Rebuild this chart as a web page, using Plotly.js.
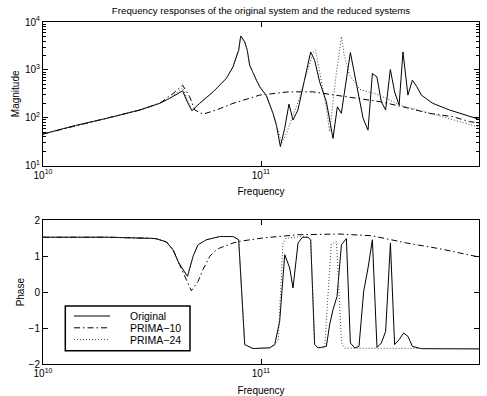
<!DOCTYPE html>
<html>
<head>
<meta charset="utf-8">
<script src="https://cdn.plot.ly/plotly-3.0.1.min.js"></script>
<style>html,body{margin:0;padding:0;background:#fff;}#chart{width:487px;height:396px;}</style>
</head>
<body>
<div id="chart"></div>
<script>
// ---- Data ----
const seriesNames = ["Original", "PRIMA\u221210", "PRIMA\u221224"];

// Magnitude: Original
const magFreqOrig = [1e10, 1.373e10, 1.954e10, 2.777e10, 3.43e10, 3.81e10, 4.37e10, 4.55e10, 4.82e10, 5.23e10, 6.03e10, 6.93e10, 7.44e10, 7.76e10, 7.9e10, 8.07e10, 8.42e10, 8.65e10, 8.87e10, 9.53e10, 9.86e10, 1.059e11, 1.135e11, 1.177e11, 1.227e11, 1.284e11, 1.344e11, 1.402e11, 1.477e11, 1.558e11, 1.69e11, 1.762e11, 1.858e11, 1.995e11, 2.139e11, 2.24e11, 2.336e11, 2.57e11, 2.74e11, 2.94e11, 3.097e11, 3.243e11, 3.40e11, 3.565e11, 3.73e11, 3.92e11, 4.10e11, 4.30e11, 4.48e11, 4.72e11, 4.95e11, 5.19e11, 5.44e11, 6.14e11, 7.33e11, 8.75e11, 1e12];
const magOrig = [45.7, 67, 97, 145, 200, 254, 365, 234, 140, 200, 348, 662, 1155, 2197, 2570, 5110, 3830, 2570, 1253, 610, 442, 290, 124, 70, 25, 60, 193, 90, 145, 442, 2370, 1592, 562, 215, 37, 169, 124, 2304, 480, 97, 55, 841, 715, 215, 145, 1019, 348, 184, 2370, 297, 610, 442, 297, 200, 145, 114, 93];

// Magnitude: PRIMA-10
const magFreqP10 = [1e10, 1.954e10, 2.777e10, 3.43e10, 3.95e10, 4.37e10, 4.71e10, 4.97e10, 5.42e10, 6.24e10, 7.44e10, 9.86e10, 1.34e11, 1.73e11, 2.46e11, 3.55e11, 4.48e11, 5.9e11, 7.6e11, 9.06e11, 1e12];
const magP10 = [45.7, 97, 145, 200, 320, 480, 274, 145, 119, 145, 200, 297, 348, 348, 274, 215, 169, 124, 105, 83, 78];

// Magnitude: PRIMA-24
const magFreqP24 = [1e10, 1.373e10, 1.954e10, 2.777e10, 3.43e10, 3.81e10, 4.37e10, 4.55e10, 4.82e10, 5.23e10, 6.03e10, 6.93e10, 7.44e10, 7.76e10, 7.9e10, 8.07e10, 8.42e10, 8.65e10, 8.87e10, 9.53e10, 1.059e11, 1.135e11, 1.177e11, 1.245e11, 1.30e11, 1.40e11, 1.50e11, 1.61e11, 1.74e11, 1.78e11, 1.88e11, 1.995e11, 2.065e11, 2.21e11, 2.34e11, 2.41e11, 2.55e11, 2.84e11, 3.5e11, 4.33e11, 5.74e11, 7.6e11, 1e12];
const magP24 = [45.7, 67, 97, 145, 200, 254, 420, 260, 140, 200, 348, 662, 1155, 2197, 2570, 5110, 3830, 2570, 1253, 610, 274, 124, 70, 30, 44, 114, 254, 776, 2370, 2600, 662, 157, 51, 776, 5000, 2020, 776, 390, 297, 184, 130, 90, 64];

// Phase: Original
const phFreqOrig = [1e10, 2e10, 3.09e10, 3.3e10, 3.68e10, 3.95e10, 4.2e10, 4.6e10, 4.88e10, 5.14e10, 5.62e10, 6.47e10, 7.44e10, 7.9e10, 8.42e10, 9.19e10, 1.096e11, 1.156e11, 1.218e11, 1.285e11, 1.354e11, 1.402e11, 1.479e11, 1.549e11, 1.643e11, 1.69e11, 1.762e11, 1.826e11, 1.995e11, 2.065e11, 2.14e11, 2.232e11, 2.338e11, 2.464e11, 2.57e11, 2.69e11, 2.815e11, 2.958e11, 3.097e11, 3.243e11, 3.404e11, 3.565e11, 3.73e11, 3.924e11, 4.10e11, 4.30e11, 4.515e11, 4.72e11, 4.95e11, 5.44e11, 1e12];
const phOrig = [1.53, 1.53, 1.50, 1.49, 1.40, 1.18, 0.81, 0.44, 1.0, 1.32, 1.46, 1.55, 1.55, 1.46, -1.46, -1.57, -1.55, -1.46, -0.81, 1.045, 0.674, 0.117, 1.37, 1.53, 1.53, 1.46, -1.46, -1.55, -1.51, -0.905, -0.487, -0.12, 1.32, 1.49, -1.415, -1.554, -1.51, 0.022, 0.674, 1.46, -1.54, -1.415, -1.09, 1.37, -1.46, -1.32, -1.136, -1.23, -1.51, -1.574, -1.58];

// Phase: PRIMA-10
const phFreqP10 = [1e10, 2e10, 3.09e10, 3.3e10, 3.68e10, 3.95e10, 4.2e10, 4.46e10, 4.79e10, 5.14e10, 5.42e10, 5.82e10, 6.24e10, 6.47e10, 7.44e10, 8.05e10, 1.02e11, 1.48e11, 2.3e11, 3.24e11, 4.65e11, 6.6e11, 9.5e11, 1e12];
const phP10 = [1.53, 1.53, 1.50, 1.49, 1.40, 1.18, 0.81, 0.45, 0.04, 0.3, 0.63, 1.0, 1.18, 1.23, 1.37, 1.42, 1.51, 1.6, 1.62, 1.57, 1.37, 1.21, 1.0, 0.98];

// Phase: PRIMA-24
const phFreqP24 = [1e10, 2e10, 3.09e10, 3.3e10, 3.68e10, 3.95e10, 4.2e10, 4.6e10, 4.88e10, 5.14e10, 5.62e10, 6.47e10, 7.44e10, 7.9e10, 8.42e10, 9.19e10, 1.096e11, 1.156e11, 1.20e11, 1.26e11, 1.30e11, 1.402e11, 1.549e11, 1.643e11, 1.69e11, 1.762e11, 1.826e11, 1.96e11, 2.10e11, 2.22e11, 2.34e11, 2.42e11, 1e12];
const phP24 = [1.53, 1.53, 1.50, 1.49, 1.40, 1.18, 0.81, 0.44, 1.0, 1.32, 1.46, 1.55, 1.55, 1.46, -1.46, -1.57, -1.55, -1.46, -1.35, 1.35, 1.5, 1.53, 1.55, 1.53, 1.46, -1.46, -1.55, -1.55, 1.35, 1.4, -1.40, -1.56, -1.57];

// Tick labels
const freqTickVals = [1e10, 1e11, 1e12];
const freqTickText = ["10<sup>10</sup>", "10<sup>11</sup>", "10<sup>12</sup>"];
const magTickVals = [10, 100, 1000, 10000];
const magTickText = ["10<sup>1</sup>", "10<sup>2</sup>", "10<sup>3</sup>", "10<sup>4</sup>"];

// ---- Styles ----
const FONT = "Liberation Sans, Arial, Helvetica, sans-serif";
const styles = [
  {color: "#000", width: 1, dash: "solid"},
  {color: "#000", width: 1, dash: "6px,3px,1.5px,3px"},
  {color: "#444", width: 1, dash: "1px,2px"}
];

const magX = [magFreqOrig, magFreqP10, magFreqP24];
const magY = [magOrig, magP10, magP24];
const phX = [phFreqOrig, phFreqP10, phFreqP24];
const phY = [phOrig, phP10, phP24];

const traces = [];
for (let i = 0; i < 3; i++) {
  traces.push({x: magX[i], y: magY[i], type: "scatter", mode: "lines", name: seriesNames[i],
    line: styles[i], xaxis: "x", yaxis: "y", showlegend: false, hoverinfo: "skip"});
}
for (let i = 0; i < 3; i++) {
  traces.push({x: phX[i], y: phY[i], type: "scatter", mode: "lines", name: seriesNames[i],
    line: styles[i], xaxis: "x2", yaxis: "y2", showlegend: false, hoverinfo: "skip"});
}

// minor tick positions for log magnitude axis
const minorVals = [];
for (let k = 1; k <= 3; k++) for (let d = 2; d <= 9; d++) minorVals.push(d * Math.pow(10, k));

const W = 487, H = 396, ML = 43, MR = 8, MT = 22, MB = 32;
const PW = W - ML - MR, PH = H - MT - MB;
const px = v => (v - ML) / PW;
const py = v => (H - MB - v) / PH;

const axBase = {
  showline: true, linecolor: "#000", linewidth: 1, mirror: "ticks",
  ticks: "inside", ticklen: 5, tickcolor: "#000", tickwidth: 1,
  showgrid: false, zeroline: false,
  tickfont: {family: FONT, size: 10, color: "#000"}
};

// manual legend (MATLAB style box)
const legRows = [316, 327.8, 339.6];
const shapes = [{type: "rect", xref: "paper", yref: "paper",
  x0: px(65.3), x1: px(190), y0: py(350.7), y1: py(306),
  line: {color: "#000", width: 1.5}, fillcolor: "#fff", layer: "above"}];
const annotations = [];
for (let i = 0; i < 3; i++) {
  shapes.push({type: "line", xref: "paper", yref: "paper",
    x0: px(74), x1: px(110), y0: py(legRows[i]), y1: py(legRows[i]),
    line: {color: styles[i].color, width: 1, dash: styles[i].dash}, layer: "above"});
  annotations.push({xref: "paper", yref: "paper", x: px(129), y: py(legRows[i]),
    xanchor: "left", yanchor: "middle", text: seriesNames[i], showarrow: false,
    borderpad: 0, font: {family: FONT, size: 10.5, color: "#000"}});
}

const layout = {
  width: W, height: H,
  margin: {l: ML, r: MR, t: MT, b: MB, pad: 0},
  paper_bgcolor: "#fff", plot_bgcolor: "#fff",
  font: {family: FONT, size: 10, color: "#000"},
  showlegend: false,
  title: {text: "Frequency responses of the original system and the reduced systems",
    font: {family: FONT, size: 9.7, color: "#000"},
    x: 0.5, xref: "paper", xanchor: "center", y: 1 - 11 / H, yref: "container", yanchor: "middle"},
  xaxis: Object.assign({}, axBase, {type: "log", range: [10, 12], domain: [0, 1], anchor: "y",
    tickmode: "array", tickvals: freqTickVals, ticktext: freqTickText,
    title: {text: "Frequency", font: {family: FONT, size: 10}, standoff: 8}}),
  yaxis: Object.assign({}, axBase, {type: "log", range: [1, 4], domain: [0.58, 1], anchor: "x",
    tickmode: "array", tickvals: magTickVals, ticktext: magTickText,
    minor: {tickmode: "array", tickvals: minorVals, ticks: "inside", ticklen: 3, tickcolor: "#000", tickwidth: 1},
    title: {text: "Magnitude", font: {family: FONT, size: 10}, standoff: 3}}),
  xaxis2: Object.assign({}, axBase, {type: "log", range: [10, 12], domain: [0, 1], anchor: "y2",
    tickmode: "array", tickvals: freqTickVals, ticktext: freqTickText,
    title: {text: "Frequency", font: {family: FONT, size: 10}, standoff: 8}}),
  yaxis2: Object.assign({}, axBase, {range: [-2, 2], domain: [0, 0.42], anchor: "x2",
    tickmode: "linear", tick0: -2, dtick: 1,
    title: {text: "Phase", font: {family: FONT, size: 10}, standoff: 2}}),
  shapes: shapes,
  annotations: annotations
};

Plotly.newPlot("chart", traces, layout, {staticPlot: true, displayModeBar: false});
</script>
</body>
</html>
